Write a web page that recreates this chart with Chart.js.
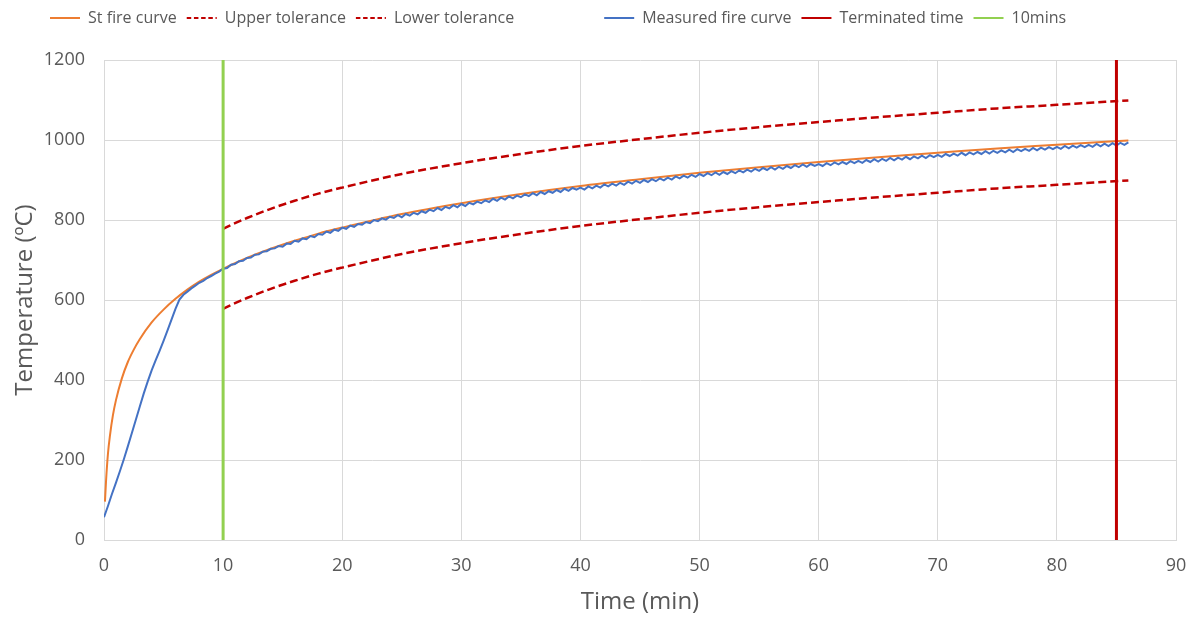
<!DOCTYPE html>
<html>
<head>
    <meta charset="UTF-8">
    <title>Fire resistance test</title>
    <script src="https://cdn.jsdelivr.net/npm/chart.js@4.4.0/dist/chart.umd.min.js"></script>
    <style>
        body { margin: 0; background: #fff; }
    </style>
</head>
<body>
    <canvas id="myChart" width="1195" height="617"></canvas>
    <script>

        // standard fire curve (min, degC)
        var stdTime = [0.08, 0.17, 0.33, 0.5, 0.75, 1, 1.5, 2, 2.5, 3, 4, 5, 6, 7, 8, 9, 10, 12, 14, 16, 18, 20, 25, 30, 35, 40, 45, 50, 55, 60, 65, 70, 75, 80, 86];
        var stdTemp = [96, 147, 215, 261, 312, 349, 404, 445, 476, 502, 544, 576, 603, 626, 646, 663, 678, 705, 728, 748, 766, 781, 815, 842, 865, 885, 902, 918, 932, 945, 957, 968, 979, 988, 999];

        // tolerance band, from 10 min on
        var tolTime = [10, 11, 12, 14, 16, 18, 20, 25, 30, 35, 40, 45, 50, 55, 60, 65, 70, 75, 80, 86];
        var upperTemp = [778, 792, 805, 828, 848, 866, 881, 915, 942, 965, 985, 1002, 1018, 1032, 1045, 1057, 1068, 1079, 1088, 1099];
        var lowerTemp = [578, 592, 605, 628, 648, 666, 681, 715, 742, 765, 785, 802, 818, 832, 845, 857, 868, 879, 888, 899];

        // furnace log, one reading every 20 s starting at t = 0
        var logStep = 1 / 3;
        var measuredTemp = [
            57, 85, 115, 143, 172, 202, 234, 267, 300, 333,
            366, 396, 424, 449, 473, 498, 524, 551, 578, 601,
            613, 621, 629, 636, 643, 648, 655, 660, 666, 671,
            678, 680, 688, 690, 697, 698, 705, 706, 713, 714, 721, 722, 728, 729, 735,
            733, 741, 740, 748, 746, 754, 752, 760, 757, 765, 763, 771, 768, 776, 773,
            781, 778, 786, 783, 790, 788, 795, 792, 800, 797, 804, 801, 808, 805, 812,
            807, 815, 811, 818, 814, 822, 818, 826, 822, 830, 825, 833, 829, 837, 832,
            840, 835, 843, 839, 846, 842, 849, 845, 853, 848, 856, 851, 859, 854, 861,
            857, 864, 860, 867, 862, 870, 865, 872, 868, 875, 870, 878, 873, 880, 876,
            881, 876, 884, 879, 886, 881, 889, 884, 891, 886, 893, 888, 896, 891, 898,
            893, 900, 895, 902, 897, 904, 899, 906, 901, 909, 904, 911, 906, 913, 908,
            915, 910, 917, 912, 919, 913, 920, 915, 922, 917, 924, 919, 926, 921, 928,
            923, 930, 925, 932, 926, 933, 928, 935, 930, 937, 932, 939, 933, 940, 935,
            940, 935, 942, 937, 944, 939, 945, 940, 947, 942, 948, 943, 950, 945, 952,
            946, 953, 948, 955, 949, 956, 951, 958, 952, 959, 954, 961, 955, 962, 957,
            963, 958, 965, 960, 966, 961, 968, 962, 969, 964, 970, 965, 972, 966, 973,
            968, 974, 969, 976, 970, 977, 972, 978, 973, 980, 974, 981, 976, 982, 977,
            983, 978, 985, 979, 986, 981, 987, 982, 988, 983, 990, 984, 991, 985, 992,
            986, 993, 988, 994
        ];

        // vertical markers
        var tenMinTime = [10, 10];
        var endTime = [85, 85];
        var markerTemp = [0, 1200];

        var FONT = "'Open Sans', sans-serif";
        var TEXT = '#595959';
        var GRID = '#d9d9d9';

        function pairs(xs, ys) {
            return ys.map(function (y, i) { return { x: xs[i], y: y }; });
        }

        var measuredPts = measuredTemp.map(function (v, i) {
            return { x: i * logStep, y: v };
        });

        Chart.defaults.font.family = FONT;
        Chart.defaults.color = TEXT;

        // fixed legend band height so the plot starts at y = 60
        var legendHeight = {
            id: 'legendHeight',
            beforeInit: function (chart) {
                var fit = chart.legend.fit;
                chart.legend.fit = function () {
                    fit.call(this);
                    this.height = 60;
                };
            },
            afterLayout: function (chart) {
                chart.legend.left = 40;
            }
        };

        // legend entries: short lines, dashed for the tolerance band
        function legendItems(chart) {
            var items = chart.data.datasets.map(function (ds, i) {
                return {
                    text: ds.label,
                    datasetIndex: i,
                    fontColor: TEXT,
                    strokeStyle: ds.borderColor,
                    fillStyle: ds.borderColor,
                    lineWidth: 2,
                    lineDash: ds.borderDash ? [4.5, 2.7] : [],
                    pointStyle: 'line',
                    hidden: false
                };
            });
            // empty slot between the tolerance entries and the rest
            items.splice(3, 0, {
                text: '\u2003\u2003',
                datasetIndex: -1,
                fontColor: TEXT,
                strokeStyle: 'rgba(0,0,0,0)',
                fillStyle: 'rgba(0,0,0,0)',
                lineWidth: 0,
                pointStyle: 'line',
                hidden: false
            });
            return items;
        }

        var data = {
            datasets: [{
                label: 'St fire curve',
                data: pairs(stdTime, stdTemp),
                borderColor: '#ED7D31',
                backgroundColor: '#ED7D31',
                borderWidth: 2,
                cubicInterpolationMode: 'monotone',
                order: 6
            }, {
                label: 'Upper tolerance',
                data: pairs(tolTime, upperTemp),
                borderColor: '#C00000',
                backgroundColor: '#C00000',
                borderWidth: 2.5,
                borderDash: [8, 4],
                cubicInterpolationMode: 'monotone',
                order: 5
            }, {
                label: 'Lower tolerance',
                data: pairs(tolTime, lowerTemp),
                borderColor: '#C00000',
                backgroundColor: '#C00000',
                borderWidth: 2.5,
                borderDash: [8, 4],
                cubicInterpolationMode: 'monotone',
                order: 4
            }, {
                label: 'Measured fire curve',
                data: measuredPts,
                borderColor: '#4472C4',
                backgroundColor: '#4472C4',
                borderWidth: 2,
                tension: 0,
                order: 3
            }, {
                label: 'Terminated time',
                data: pairs(endTime, markerTemp),
                borderColor: '#C00000',
                backgroundColor: '#C00000',
                borderWidth: 3,
                order: 2
            }, {
                label: '10mins',
                data: pairs(tenMinTime, markerTemp),
                borderColor: '#92D050',
                backgroundColor: '#92D050',
                borderWidth: 3,
                order: 1
            }]
        };

        var config = {
            type: 'line',
            data: data,
            plugins: [legendHeight],
            options: {
                responsive: false,
                animation: false,
                layout: { padding: { left: 0, right: 19, top: 0, bottom: 0 } },
                elements: { point: { radius: 0, hoverRadius: 0 } },
                plugins: {
                    tooltip: { enabled: false },
                    legend: {
                        position: 'top',
                        align: 'start',
                        labels: {
                            usePointStyle: true,
                            pointStyle: 'line',
                            pointStyleWidth: 30,
                            padding: 10,
                            color: TEXT,
                            font: { size: 16 },
                            generateLabels: legendItems
                        }
                    }
                },
                scales: {
                    x: {
                        type: 'linear',
                        min: 0,
                        max: 90,
                        // invisible tick marks push the labels down without widening the axis
                        ticks: { stepSize: 10, padding: 1, color: TEXT, font: { size: 18 } },
                        grid: { color: GRID, drawTicks: true, tickLength: 14, tickColor: 'rgba(0,0,0,0)' },
                        border: { color: GRID },
                        title: {
                            display: true,
                            text: 'Time (min)',
                            color: TEXT,
                            font: { size: 24 },
                            padding: { top: 0, bottom: 0 }
                        },
                        afterFit: function (scale) { scale.height = 77; }
                    },
                    y: {
                        min: 0,
                        max: 1200,
                        ticks: {
                            stepSize: 200,
                            padding: 19,
                            color: TEXT,
                            font: { size: 18 },
                            format: { useGrouping: false }
                        },
                        grid: { color: GRID, drawTicks: false },
                        border: { color: GRID },
                        title: {
                            display: true,
                            text: 'Temperature (ºC)',
                            color: TEXT,
                            font: { size: 24 },
                            padding: { top: 11, bottom: 0 }
                        },
                        afterFit: function (scale) { scale.width = 104; }
                    }
                }
            }
        };

        var myChart = new Chart(document.getElementById('myChart'), config);
    </script>
</body>
</html>
